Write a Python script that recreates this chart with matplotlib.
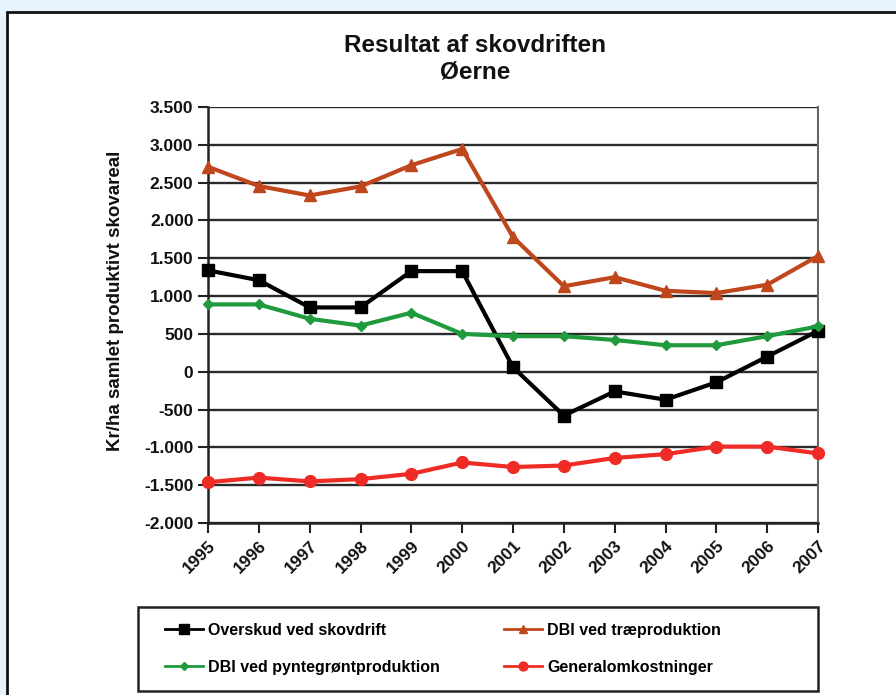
import matplotlib
matplotlib.use("Agg")
import matplotlib.pyplot as plt
from matplotlib.patches import Rectangle
from matplotlib.ticker import FuncFormatter

years = [str(y) for y in range(1995, 2008)]

overskud = [1340, 1210, 850, 850, 1330, 1330, 60, -580, -260, -370, -140, 200, 540]
dbi_trae = [2710, 2455, 2330, 2450, 2730, 2945, 1780, 1130, 1250, 1070, 1040, 1150, 1530]
dbi_pynt = [890, 890, 700, 610, 780, 500, 470, 470, 420, 350, 350, 470, 600]
general = [-1460, -1400, -1450, -1420, -1350, -1200, -1260, -1240, -1140, -1090, -990, -990, -1080]

series = [
    ("Overskud ved skovdrift", overskud, "#000000", "s", 9),
    ("DBI ved træproduktion", dbi_trae, "#c0461c", "^", 8.5),
    ("DBI ved pyntegrøntproduktion", dbi_pynt, "#1f9a3c", "D", 5.5),
    ("Generalomkostninger", general, "#ee2b24", "o", 8.5),
]

plt.rcParams["font.family"] = ["Liberation Sans", "DejaVu Sans"]
plt.rcParams["font.weight"] = "bold"

W, H = 896, 695
fig = plt.figure(figsize=(W / 100, H / 100), dpi=100)
fig.patch.set_facecolor("#e8f2fb")

# white panel with dark border (behind the axes)
panel = Rectangle((7 / W, -0.01), 1.0, 1 - 12 / H + 0.01, transform=fig.transFigure,
                  facecolor="white", edgecolor="#111111", linewidth=2, zorder=-5)
fig.patches.append(panel)

ax = fig.add_axes([208 / W, 1 - 523 / H, (818 - 208) / W, (523 - 107) / H])
ax.set_facecolor("white")

x = list(range(len(years)))
handles = []
for label, vals, color, marker, ms in series:
    h, = ax.plot(x, vals, color=color, linewidth=3, marker=marker, markersize=ms,
                 label=label, clip_on=False, zorder=3)
    handles.append(h)

ax.set_xlim(0, len(years) - 1)
ax.set_ylim(-2000, 3500)
ax.set_yticks(range(-2000, 3501, 500))
ax.yaxis.set_major_formatter(FuncFormatter(lambda v, p: f"{int(v):,}".replace(",", ".")))
ax.set_xticks(x)
ax.set_xticklabels(years, rotation=45, ha="right", rotation_mode="anchor")

ax.grid(axis="y", color="#2a2a2a", linewidth=1.7, zorder=1)
ax.set_axisbelow(True)
for s in ["left", "bottom"]:
    ax.spines[s].set_color("#222222")
    ax.spines[s].set_linewidth(1.8)
ax.spines["right"].set_color("#666666")
ax.spines["right"].set_linewidth(1.5)
ax.spines["top"].set_visible(False)
ax.tick_params(axis="both", direction="out", length=7, width=1.5, colors="#222222",
               labelsize=12.5, labelcolor="#111111")
ax.tick_params(axis="x", pad=4)
for t in ax.get_xticklabels() + ax.get_yticklabels():
    t.set_fontweight("bold")

ax.set_ylabel("Kr/ha samlet produktivt skovareal", fontsize=13.5, fontweight="bold",
              color="#111111")
ax.yaxis.set_label_coords(-0.137, 0.535)

fig.text(475 / W, 1 - 45 / H, "Resultat af skovdriften", ha="center", va="center",
         fontsize=17.5, fontweight="bold", color="#111111")
fig.text(475 / W, 1 - 72 / H, "Øerne", ha="center", va="center",
         fontsize=17.5, fontweight="bold", color="#111111")

# legend box drawn separately (wider than its contents in the original)
box = Rectangle((138 / W, 1 - 691 / H), (818 - 138) / W, (691 - 607) / H,
                transform=fig.transFigure, facecolor="white", edgecolor="#222222",
                linewidth=1.8, zorder=1)
fig.patches.append(box)

# legend filled row by row like the original
order = [0, 2, 1, 3]
leg = fig.legend(handles=[handles[i] for i in order], ncol=2, loc="upper left",
                 bbox_to_anchor=(165 / W, 1 - 623 / H), frameon=False,
                 fontsize=11.5, handlelength=2.4, handletextpad=0.3,
                 columnspacing=4.0, labelspacing=1.35, borderpad=0, borderaxespad=0,
                 markerscale=0.75)
leg.set_zorder(2)
for line in leg.get_lines():
    line.set_linewidth(2)
for t in leg.get_texts():
    t.set_fontweight("bold")

fig.savefig("out.png", dpi=100)
